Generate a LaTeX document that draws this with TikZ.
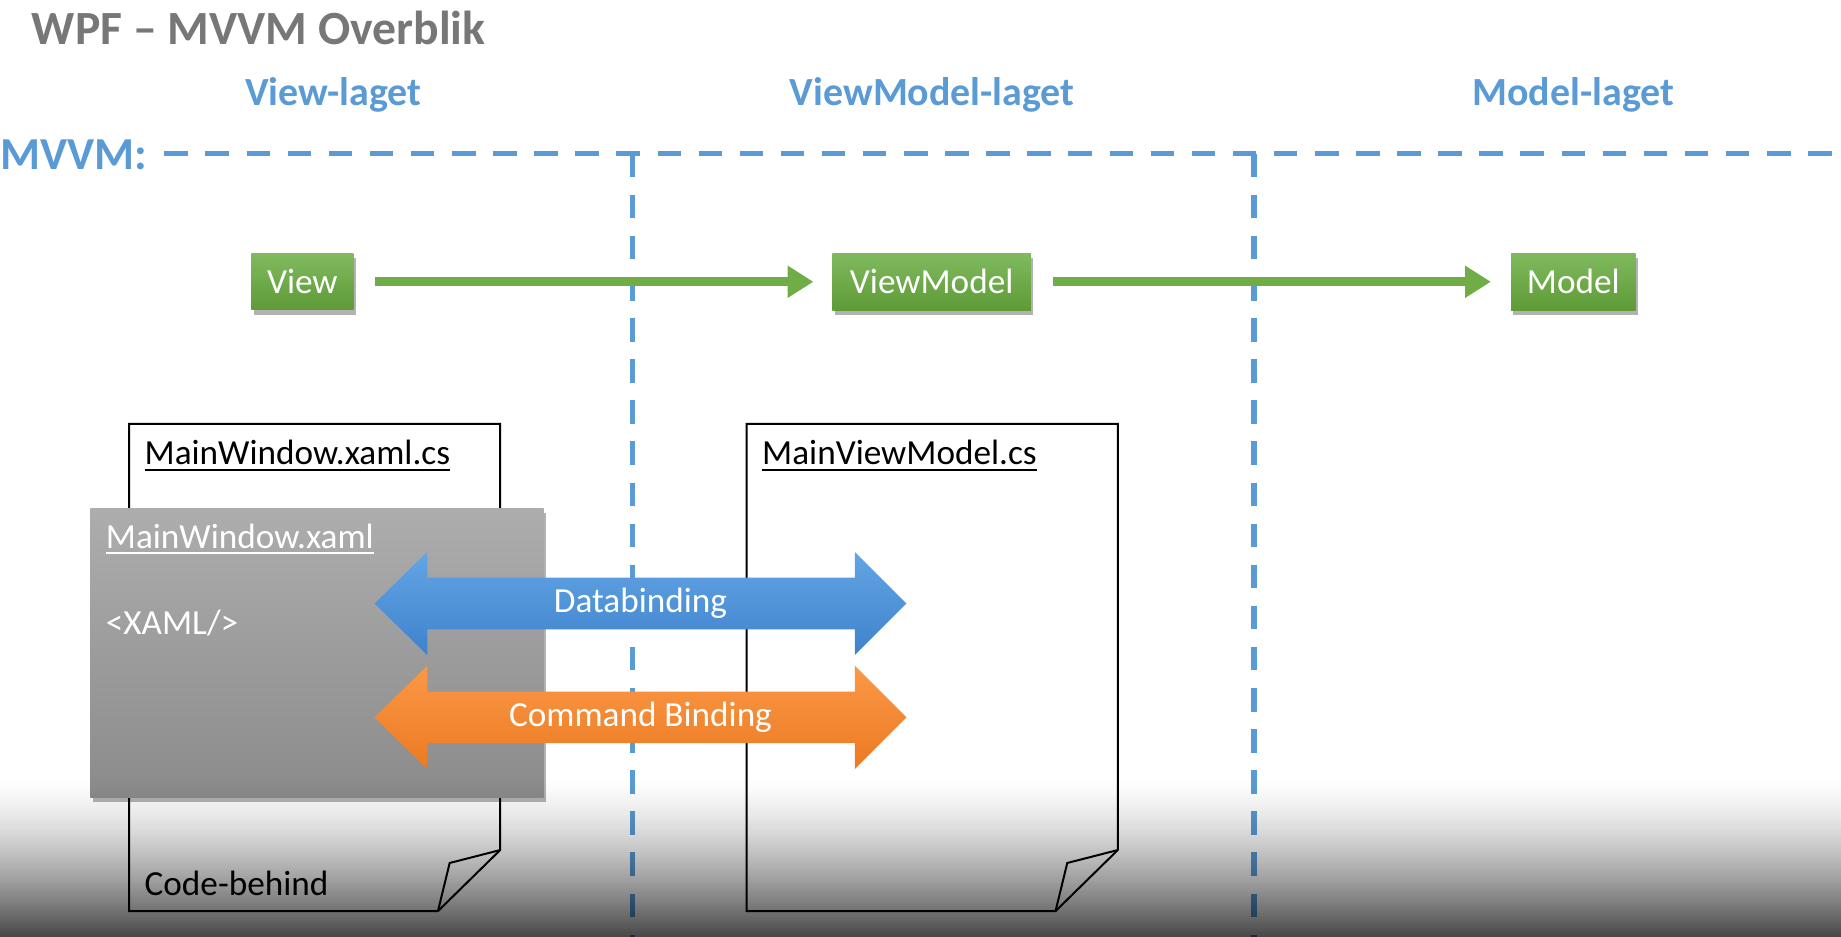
\documentclass[tikz,border=0pt]{standalone}
\usepackage{fontspec}
\setmainfont{Carlito}
\usetikzlibrary{arrows.meta,shadows}
\definecolor{titlegray}{HTML}{777777}
\definecolor{layerblue}{HTML}{5B9BD5}
\definecolor{gtop}{HTML}{80BA5F}
\definecolor{gbot}{HTML}{5E9A36}
\definecolor{garrowc}{HTML}{70AD47}
\definecolor{btop}{HTML}{63A5E4}
\definecolor{bbot}{HTML}{3E82CD}
\definecolor{otop}{HTML}{FB9847}
\definecolor{obot}{HTML}{EC7A22}
\definecolor{xtop}{HTML}{ADADAD}
\definecolor{xbot}{HTML}{8B8B8B}
\newcommand\myul[1]{\setbox0\hbox{#1}\rlap{\rule[-5pt]{\wd0}{1.8pt}}\box0}
\tikzset{
  layerlbl/.style={text=layerblue, font=\fontsize{34}{34}\selectfont\bfseries, inner sep=0pt, anchor=base},
  divider/.style={draw=layerblue, line width=4pt, dash pattern=on 20pt off 15pt},
  vdivider/.style={divider, line width=4.5pt},
  greenbox/.style={rectangle, top color=gtop, bottom color=gbot, text=white,
    font=\fontsize{30}{30}\selectfont, inner sep=0pt,
    drop shadow={shadow xshift=2pt, shadow yshift=-4pt, opacity=0.3, fill=black}},
  greenarrow/.style={draw=garrowc, line width=8pt, -{Triangle[length=22pt,width=26pt]}},
  docshape/.style={draw=black, line width=1.7pt, fill=white, line join=miter},
  doctext/.style={font=\fontsize{30}{30}\selectfont, inner sep=0pt, anchor=base west},
  xamlbox/.style={rectangle, top color=xtop, bottom color=xbot, inner sep=0pt,
    drop shadow={shadow xshift=2pt, shadow yshift=-4pt, opacity=0.3, fill=black}},
  xamltext/.style={font=\fontsize{30}{30}\selectfont, text=white, inner sep=0pt, anchor=base west},
  bindtext/.style={font=\fontsize{30}{30}\selectfont, text=white, inner sep=0pt},
}
\begin{document}
\begin{tikzpicture}[x=1pt,y=-1pt]
\useasboundingbox (0,0) rectangle (1568,798);
\fill[white] (0,0) rectangle (1568,798);

% title and layer labels
\node[font=\fontsize{40.6}{40.6}\selectfont\bfseries, text=titlegray, inner sep=0pt, anchor=base west] (title) at (27,38) {WPF -- MVVM Overblik};
\node[layerlbl] (lview) at (284,90) {View-laget};
\node[layerlbl] (lvm) at (794,90) {ViewModel-laget};
\node[layerlbl] (lmodel) at (1340,90) {Model-laget};
\node[font=\fontsize{39}{39}\selectfont\bfseries, text=layerblue, inner sep=0pt, anchor=base west] (mvvm) at (0,144) {MVVM:};

% dividers
\coordinate (hstart) at (140,131);
\coordinate (hend) at (1568,131);
\coordinate (v1top) at (539,131);
\coordinate (v1bot) at (539,798);
\coordinate (v2top) at (1068,131);
\coordinate (v2bot) at (1068,798);
\draw[divider] (hstart) -- (hend);
\draw[vdivider] (v1top) -- (v1bot);
\draw[vdivider] (v2top) -- (v2bot);

% documents
\draw[docshape] (110,361) -- (426,361) -- (426,724) -- (373,776) -- (110,776) -- cycle;
\draw[black, line width=1.7pt, line join=miter] (426,724) -- (383,735) -- (373,776);
\draw[docshape] (636,361) -- (952,361) -- (952,724) -- (899,776) -- (636,776) -- cycle;
\draw[black, line width=1.7pt, line join=miter] (952,724) -- (909,735) -- (899,776);
\node[doctext] (mwcs) at (123,396) {\myul{MainWindow.xaml.cs}};
\node[doctext] (codebehind) at (123,763) {Code-behind};
\node[doctext] (mvmcs) at (649,396) {\myul{MainViewModel.cs}};

% xaml box
\node[xamlbox, minimum width=386pt, minimum height=246pt] (xaml) at (270,556) {};
\node[xamltext] (xamlname) at (90,467) {\myul{MainWindow.xaml}};
\node[xamltext] (xamltag) at (90,540) {<XAML/>};

% green boxes
\node[greenbox, minimum width=87pt, minimum height=48pt] (view) at (257.5,240) {View};
\node[greenbox, minimum width=169pt, minimum height=49pt] (vm) at (793.5,240) {ViewModel};
\node[greenbox, minimum width=106pt, minimum height=49pt] (model) at (1340,240) {Model};
\draw[greenarrow, shorten <=18pt, shorten >=16pt] (view.east) -- (vm.west);
\draw[greenarrow, shorten <=19pt, shorten >=17pt] (vm.east) -- (model.west);

% binding arrows
\shade[top color=btop, bottom color=bbot]
  (319,514) -- (364,470) -- (364,492) -- (728,492) -- (728,470) -- (772,514)
  -- (728,558) -- (728,536) -- (364,536) -- (364,558) -- cycle;
\node[bindtext] (databind) at (545.5,514) {Databinding};
\shade[top color=otop, bottom color=obot]
  (319,611) -- (364,567) -- (364,589) -- (728,589) -- (728,567) -- (772,611)
  -- (728,655) -- (728,633) -- (364,633) -- (364,655) -- cycle;
\node[bindtext] (cmdbind) at (545.5,611) {Command Binding};

% bottom shade (video overlay)
\foreach \i in {0,...,68} {
  \pgfmathsetmacro{\op}{0.72*((\i+0.5)/69)^1.5}
  \fill[black, fill opacity=\op] (0,{660+2*\i}) rectangle (1568,{662+2*\i});
}
\end{tikzpicture}
\end{document}
